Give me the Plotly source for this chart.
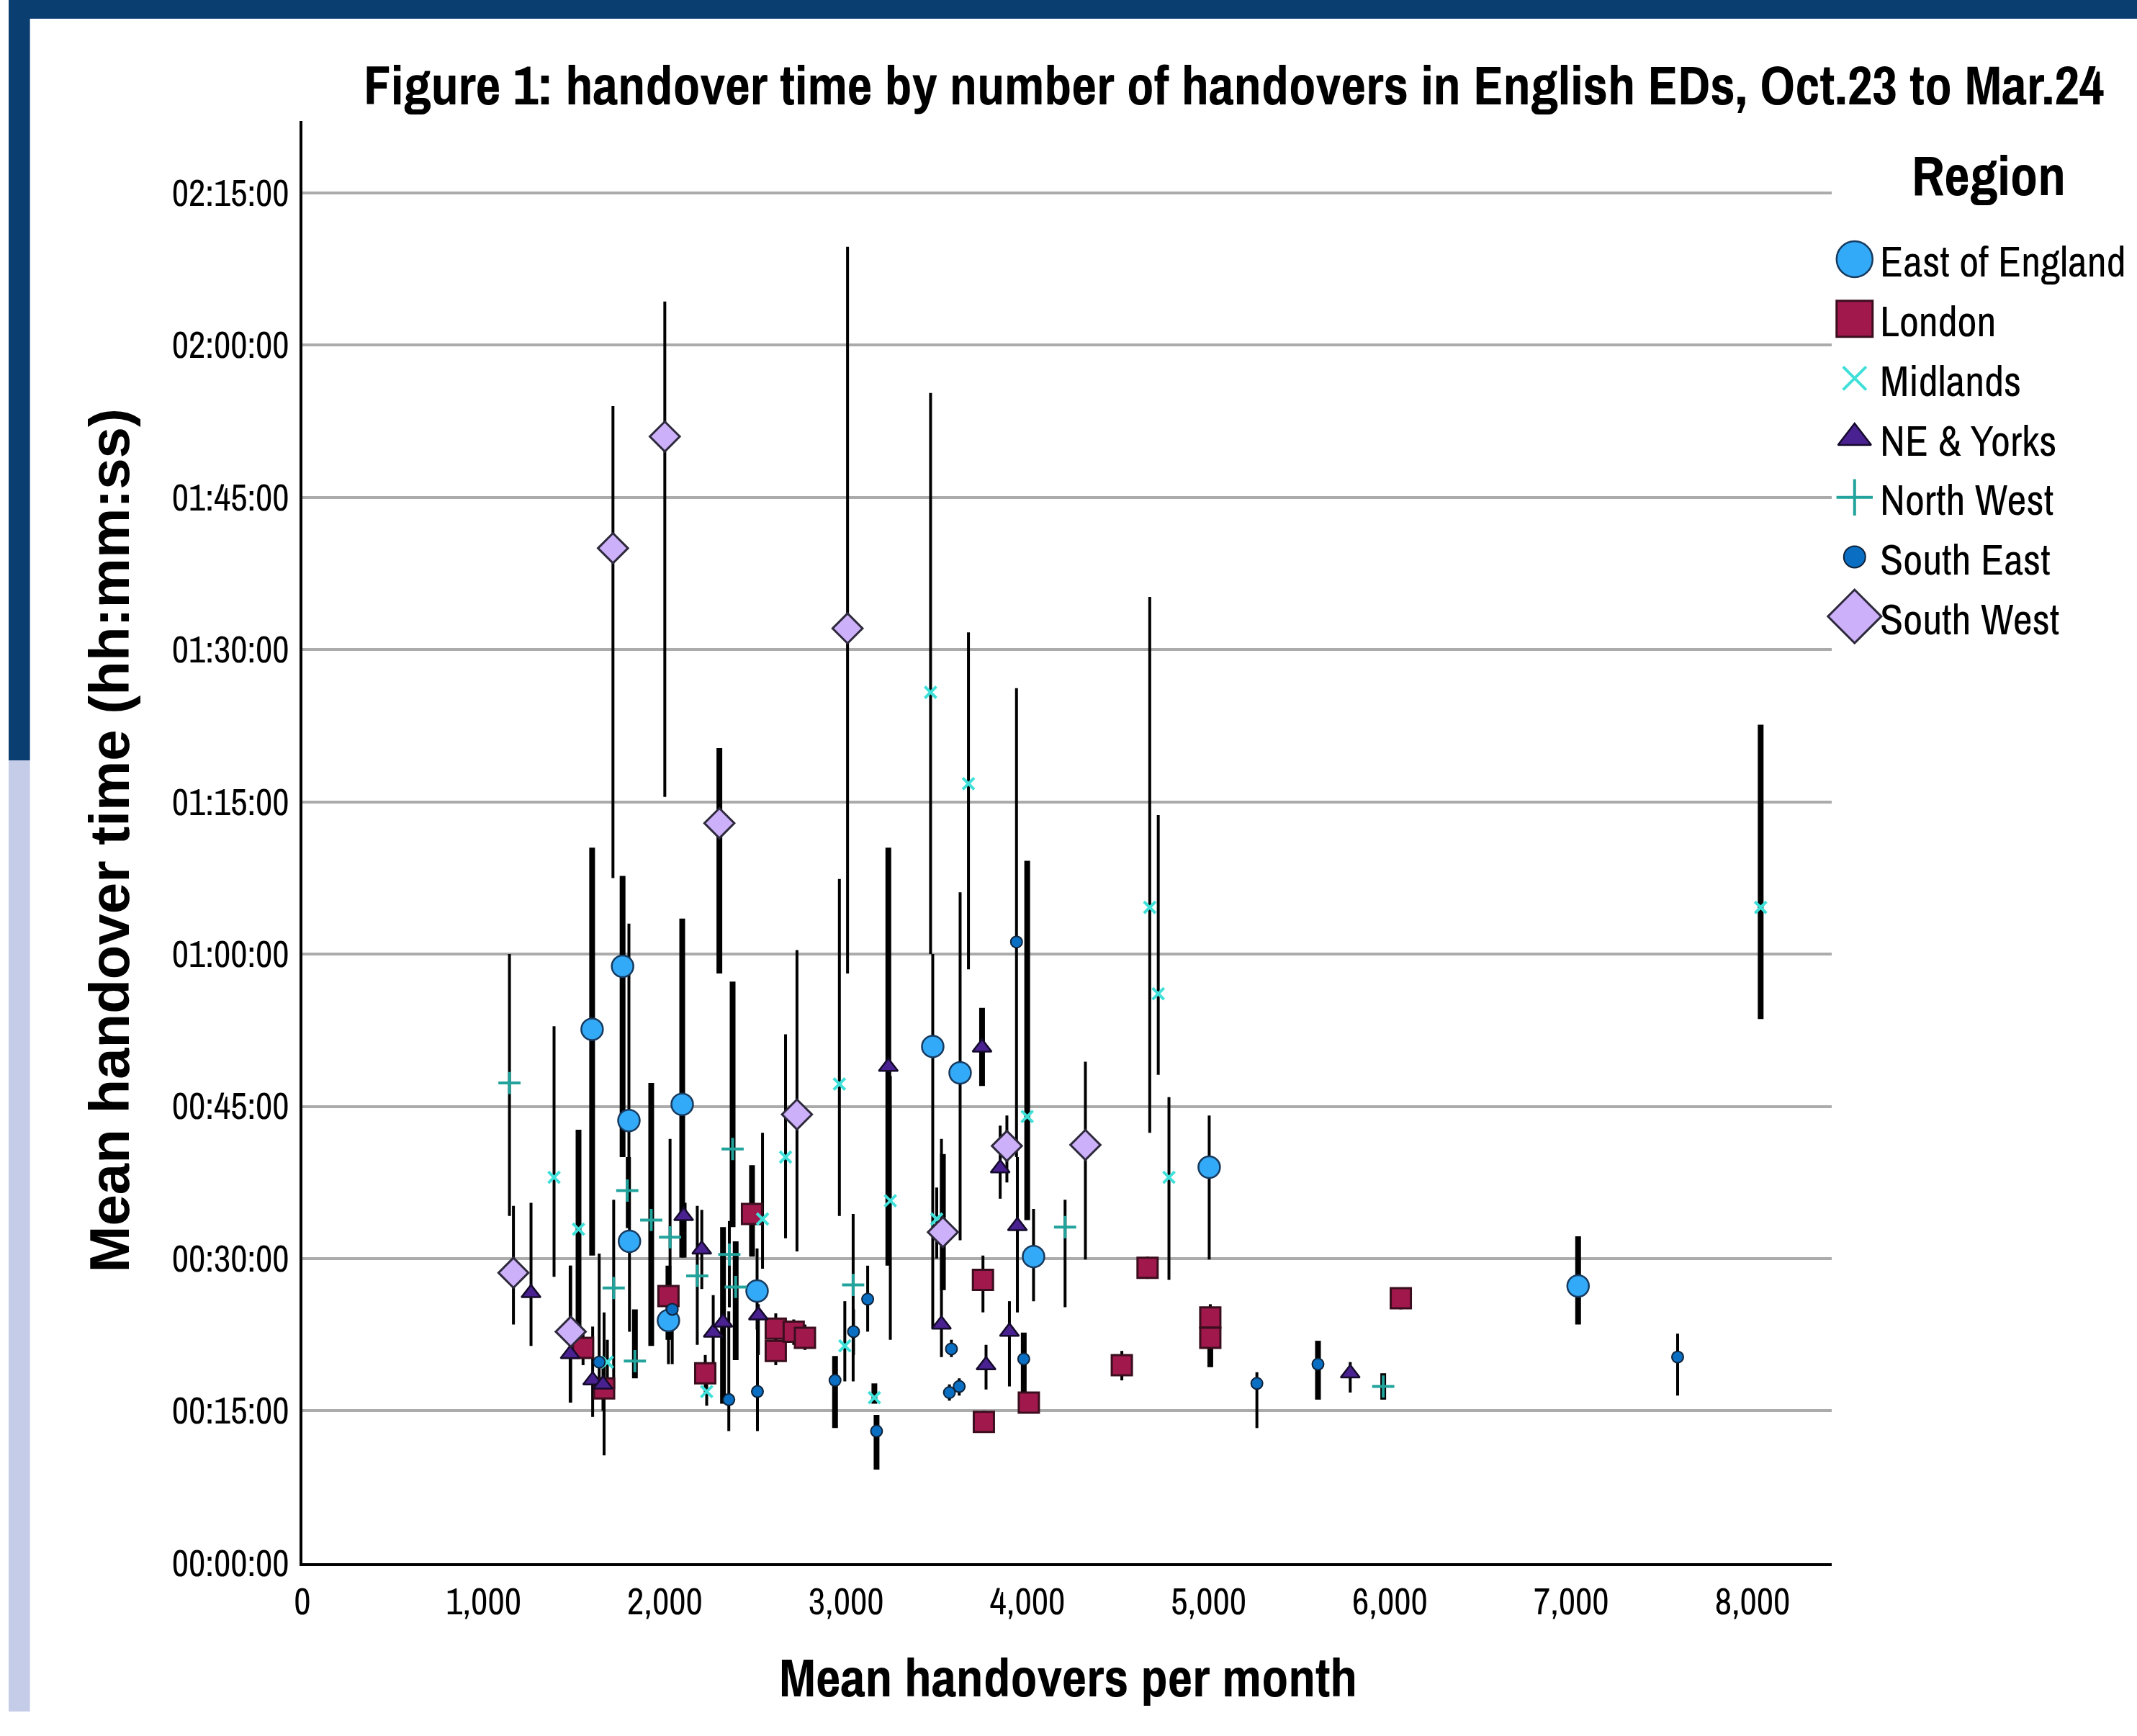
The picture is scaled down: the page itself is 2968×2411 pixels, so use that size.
import plotly.graph_objects as go

# ---------------- data ----------------
# x: mean handovers per month, y: mean handover time (minutes), lo/hi: error-bar ends (minutes)
# heavy: 1 where the error bar is drawn heavy in the source chart
east_x = [1599, 1767, 1802, 1805, 2096, 2020, 2509, 3478, 3629, 4034, 5003, 7038]
east_y = [52.6, 58.8, 43.6, 31.7, 45.2, 23.9, 26.8, 50.9, 48.3, 30.2, 39.0, 27.3]
east_lo = [30.3, 40.0, 40.0, 22.8, 30.1, 19.6, 23.0, 23.1, 31.8, 25.8, 29.9, 23.5]
east_hi = [70.5, 67.7, 63.0, 40.0, 63.5, 27.0, 31.0, 60.0, 66.1, 34.9, 44.1, 32.2]
east_heavy = [1, 1, 0, 0, 1, 0, 0, 0, 0, 0, 0, 1]

london_x = [1549, 1665, 2020, 2223, 2481, 2612, 2612, 2711, 2773, 3755, 3760, 4008, 4521, 4663, 5009, 5009, 6060]
london_y = [21.2, 17.2, 26.3, 18.7, 34.4, 23.1, 20.9, 22.8, 22.2, 27.9, 13.9, 15.8, 19.5, 29.1, 24.2, 22.2, 26.1]
london_lo = [19.5, 10.6, 22.0, 16.8, 30.2, 21.5, 19.5, 21.5, 21.0, 24.7, 13.0, 15.0, 18.0, 28.0, 22.5, 19.3, 25.0]
london_hi = [23.0, 24.7, 29.3, 20.5, 39.2, 24.6, 22.5, 24.0, 23.5, 30.3, 15.0, 16.8, 20.9, 30.2, 25.5, 23.5, 27.0]
london_heavy = [0, 0, 1, 0, 1, 0, 0, 0, 0, 0, 0, 0, 0, 0, 0, 1, 0]

mid_x = [1389, 1524, 1683, 2231, 2539, 2666, 2963, 2993, 3156, 3244, 3466, 3500, 3675, 3999, 4675, 4722, 4781, 8045]
mid_y = [38.0, 32.9, 19.8, 16.9, 33.9, 40.0, 47.2, 21.4, 16.3, 35.7, 85.8, 33.9, 76.8, 44.0, 64.6, 56.1, 38.0, 64.6]
mid_lo = [28.2, 20.9, 17.5, 15.5, 29.0, 32.0, 34.2, 17.9, 15.7, 22.0, 60.0, 30.0, 58.5, 33.8, 42.4, 48.1, 27.9, 53.6]
mid_hi = [52.9, 42.7, 22.0, 18.5, 42.4, 52.1, 67.4, 25.8, 17.7, 48.0, 115.3, 37.0, 91.7, 69.2, 95.2, 73.7, 45.9, 82.6]
mid_heavy = [0, 1, 0, 0, 0, 0, 0, 0, 1, 0, 0, 0, 0, 1, 0, 0, 0, 1]

ne_x = [1262, 1478, 1602, 1659, 2104, 2204, 2267, 2321, 2516, 3233, 3526, 3750, 3772, 3850, 3901, 3945, 5781]
ne_y = [26.6, 20.6, 18.0, 17.6, 34.2, 30.9, 22.7, 23.7, 24.4, 48.9, 23.5, 50.8, 19.5, 38.9, 22.8, 33.2, 18.7]
ne_lo = [21.4, 15.8, 14.4, 15.0, 30.1, 27.0, 19.0, 15.7, 20.5, 29.3, 20.3, 47.0, 17.1, 35.9, 17.4, 24.7, 16.8]
ne_hi = [35.5, 29.3, 23.3, 20.0, 35.5, 34.8, 26.4, 33.1, 25.5, 70.5, 41.8, 54.7, 21.5, 43.1, 25.8, 40.0, 19.8]
ne_heavy = [0, 0, 0, 0, 1, 0, 0, 1, 0, 1, 0, 1, 0, 0, 0, 0, 0]

nw_x = [1143, 1718, 1793, 1835, 1925, 2029, 2179, 2356, 2374, 2391, 3039, 4208, 5963]
nw_y = [47.3, 27.1, 36.7, 19.9, 33.8, 32.1, 28.3, 30.4, 40.8, 27.2, 27.4, 33.1, 17.4]
nw_lo = [34.2, 17.1, 33.0, 18.2, 21.4, 26.6, 21.5, 25.2, 33.1, 20.0, 17.9, 25.2, 16.1]
nw_hi = [60.0, 35.8, 40.0, 25.0, 47.3, 41.8, 35.2, 33.7, 57.3, 31.7, 34.4, 35.8, 18.7]
nw_heavy = [0, 0, 0, 1, 1, 0, 0, 0, 1, 1, 0, 0, 1]

se_x = [1638, 2041, 2353, 2511, 2939, 3041, 3119, 3168, 3581, 3570, 3624, 3940, 3980, 5266, 5603, 7587]
se_y = [19.8, 25.0, 16.1, 16.9, 18.0, 22.8, 26.0, 13.0, 21.1, 16.8, 17.4, 61.2, 20.1, 17.7, 19.6, 20.3]
se_lo = [17.0, 19.6, 13.0, 13.0, 13.3, 20.5, 22.8, 9.2, 20.3, 16.0, 16.5, 40.0, 15.5, 13.3, 16.1, 16.5]
se_hi = [30.5, 26.0, 24.8, 24.2, 20.4, 25.0, 29.3, 14.6, 22.0, 17.6, 18.2, 86.2, 22.7, 18.8, 21.9, 22.6]
se_heavy = [0, 0, 0, 0, 1, 0, 0, 1, 0, 0, 0, 0, 1, 0, 1, 0]

sw_x = [1165, 1481, 1714, 2000, 2301, 3008, 2729, 3534, 3887, 4320]
sw_y = [28.6, 22.8, 100.0, 111.0, 72.9, 92.1, 44.2, 32.6, 41.1, 41.2]
sw_lo = [23.5, 15.8, 67.5, 75.5, 58.1, 58.1, 30.7, 26.9, 37.5, 29.9]
sw_hi = [35.2, 29.3, 114.0, 124.3, 80.3, 129.7, 60.4, 40.3, 44.1, 49.4]
sw_heavy = [0, 0, 0, 0, 1, 0, 0, 1, 0, 0]

regions = ["East of England", "London", "Midlands", "NE & Yorks", "North West", "South East", "South West"]

y_tick_minutes = [0, 15, 30, 45, 60, 75, 90, 105, 120, 135]
y_tick_labels = ["00:00:00", "00:15:00", "00:30:00", "00:45:00", "01:00:00",
                 "01:15:00", "01:30:00", "01:45:00", "02:00:00", "02:15:00"]
x_tick_values = [0, 1000, 2000, 3000, 4000, 5000, 6000, 7000, 8000]
x_tick_labels = ["0", "1,000", "2,000", "3,000", "4,000", "5,000", "6,000", "7,000", "8,000"]

title_text = "Figure 1: handover time by number of handovers in English EDs, Oct.23 to Mar.24"
x_title = "Mean handovers per month"
y_title = "Mean handover time (hh:mm:ss)"
legend_title = "Region"

# ---------------- layout helpers ----------------
W, H = 2968, 2411
NARROW = "Archivo Narrow, PT Sans Narrow, Roboto Condensed, sans-serif"
REG = "Liberation Sans, Arial, sans-serif"


def fx(px):
    """target horizontal pixel -> figure pixel (compensates the capture's slight offset/scale)"""
    return (px - 11.4) / 0.9955


def fy(py):
    """target vertical pixel -> figure pixel"""
    return py / 0.986


styles = {
    "East of England": dict(symbol="circle", size=30, color="#33AAF8", line=dict(color="#173A5E", width=2.5)),
    "London": dict(symbol="square", size=28, color="#A0184C", line=dict(color="#3B0E1E", width=3)),
    "Midlands": dict(symbol="x-thin", size=16, color="#3FE0D9", line=dict(color="#3FE0D9", width=4)),
    "NE & Yorks": dict(symbol="triangle-up", size=23, color="#4A2190", line=dict(color="#140A2A", width=2.5)),
    "North West": dict(symbol="cross-thin", size=22, color="#22A39C", line=dict(color="#22A39C", width=4)),
    "South East": dict(symbol="circle", size=16, color="#0A6EC2", line=dict(color="#0E2238", width=2)),
    "South West": dict(symbol="diamond", size=32, color="#CDB0FA", line=dict(color="#2E2A3C", width=3)),
}
legend_sizes = {"East of England": 50, "London": 50, "Midlands": 32, "NE & Yorks": 40,
                "North West": 36, "South East": 30, "South West": 57}

series = {
    "East of England": (east_x, east_y, east_lo, east_hi, east_heavy),
    "London": (london_x, london_y, london_lo, london_hi, london_heavy),
    "Midlands": (mid_x, mid_y, mid_lo, mid_hi, mid_heavy),
    "NE & Yorks": (ne_x, ne_y, ne_lo, ne_hi, ne_heavy),
    "North West": (nw_x, nw_y, nw_lo, nw_hi, nw_heavy),
    "South East": (se_x, se_y, se_lo, se_hi, se_heavy),
    "South West": (sw_x, sw_y, sw_lo, sw_hi, sw_heavy),
}

fig = go.Figure()

# error bars drawn as vertical segments, grouped by weight
for heavy_flag, width in [(0, 4), (1, 8)]:
    bx, by = [], []
    for name in regions:
        xs, ys, los, his, hv = series[name]
        for x, lo, hi, h in zip(xs, los, his, hv):
            if h == heavy_flag:
                bx += [x, x, None]
                by += [lo, hi, None]
    fig.add_trace(go.Scatter(x=bx, y=by, mode="lines", line=dict(color="black", width=width),
                             hoverinfo="skip", showlegend=False, xaxis="x", yaxis="y"))

# markers
for name in regions:
    xs, ys, los, his, hv = series[name]
    fig.add_trace(go.Scatter(x=xs, y=ys, mode="markers", name=name, marker=styles[name],
                             showlegend=False, xaxis="x", yaxis="y"))

# legend drawn on a pixel-coordinate overlay axis
leg_sym_x, leg_txt_x, leg_y0, leg_dy = 2574, 2607, 360, 82.7
for i, name in enumerate(regions):
    st = dict(styles[name])
    st["size"] = legend_sizes[name]
    fig.add_trace(go.Scatter(x=[fx(leg_sym_x)], y=[fy(leg_y0 + i * leg_dy)], mode="markers", marker=st,
                             showlegend=False, hoverinfo="skip", xaxis="x2", yaxis="y2"))

annotations = []
for i, name in enumerate(regions):
    annotations.append(dict(x=fx(leg_txt_x), y=fy(leg_y0 + i * leg_dy + 3), xref="x2", yref="y2", text=name,
                            showarrow=False, xanchor="left", yanchor="middle",
                            font=dict(family=NARROW, size=59, color="black")))
annotations.append(dict(x=fx(2760), y=fy(243), xref="x2", yref="y2", text="<b>" + legend_title + "</b>",
                        showarrow=False, xanchor="center", yanchor="middle",
                        font=dict(family=NARROW, size=77, color="black")))
annotations.append(dict(x=fx(1712), y=fy(118), xref="x2", yref="y2", text="<b>" + title_text + "</b>",
                        showarrow=False, xanchor="center", yanchor="middle",
                        font=dict(family=NARROW, size=76, color="black")))
annotations.append(dict(x=fx(1482), y=2362, xref="x2", yref="y2", text="<b>" + x_title + "</b>",
                        showarrow=False, xanchor="center", yanchor="middle",
                        font=dict(family=NARROW, size=75, color="black")))
annotations.append(dict(x=fx(151), y=fy(1167), xref="x2", yref="y2", text="<b>" + y_title + "</b>",
                        showarrow=False, xanchor="center", yanchor="middle", textangle=-90,
                        font=dict(family=REG, size=78, color="black")))

shapes = [
    dict(type="rect", xref="paper", yref="paper", x0=0, x1=1, y0=1 - fy(26) / H, y1=1,
         fillcolor="#0A3D70", line=dict(width=0), layer="below"),
    dict(type="rect", xref="paper", yref="paper", x0=0, x1=fx(41) / W, y0=1 - fy(1056) / H, y1=1,
         fillcolor="#0A3D70", line=dict(width=0), layer="below"),
    dict(type="rect", xref="paper", yref="paper", x0=0, x1=fx(41) / W, y0=0, y1=1 - fy(1056) / H,
         fillcolor="#C5CCE8", line=dict(width=0), layer="below"),
]

fig.update_layout(
    width=W, height=H, autosize=False, margin=dict(l=0, r=0, t=0, b=0, pad=0),
    paper_bgcolor="white", plot_bgcolor="rgba(0,0,0,0)", showlegend=False,
    xaxis=dict(domain=[fx(419) / W, fx(2542) / W], range=[0, 8436], tickvals=x_tick_values,
               ticktext=x_tick_labels, showgrid=False, zeroline=False, showline=True,
               linecolor="black", linewidth=4, ticks="outside", ticklen=6, tickcolor="rgba(0,0,0,0)",
               tickfont=dict(family=NARROW, size=51, color="black"), anchor="y"),
    yaxis=dict(domain=[1 - fy(2171) / H, 1 - fy(168) / H], range=[0, 142.1], tickvals=y_tick_minutes,
               ticktext=y_tick_labels, showgrid=True, gridcolor="#ABABAB", gridwidth=4,
               zeroline=False, showline=True, linecolor="black", linewidth=4,
               ticks="outside", ticklen=4, tickcolor="rgba(0,0,0,0)",
               tickfont=dict(family=NARROW, size=51, color="black"), anchor="x"),
    xaxis2=dict(domain=[0, 1], range=[0, W], visible=False, anchor="y2", fixedrange=True),
    yaxis2=dict(domain=[0, 1], range=[H, 0], visible=False, anchor="x2", fixedrange=True),
    annotations=annotations, shapes=shapes,
)

fig.write_html(
    "out.html", config={"responsive": False, "displayModeBar": False},
    post_script="document.body.style.margin='0';document.body.style.overflow='hidden';",
)
